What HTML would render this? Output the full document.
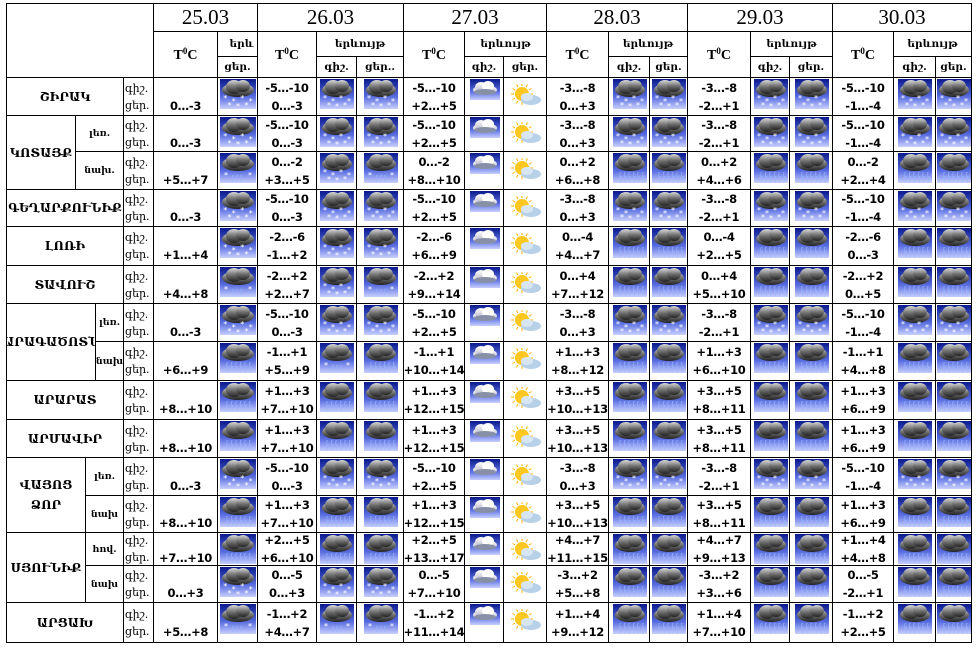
<!DOCTYPE html>
<html><head><meta charset="utf-8">
<style>
body{margin:0;background:#fff;width:979px;height:650px;overflow:hidden;position:relative;font-family:"DejaVu Sans","Liberation Sans",sans-serif;}
.c{position:absolute;box-sizing:border-box;border:1px solid #000;margin:-1px 0 0 -1px;display:flex;align-items:center;justify-content:center;text-align:center;color:#000;overflow:hidden;white-space:nowrap;}
.date{font-family:"Liberation Serif","DejaVu Serif",serif;font-size:21px;}
.hd{font-family:"DejaVu Serif",serif;font-weight:bold;font-size:10.5px;}
.tc{font-family:"Liberation Serif",serif;font-weight:bold;font-size:14px;}
.tc sup{font-size:9px;vertical-align:5px;}
.reg{font-family:"DejaVu Serif",serif;font-weight:bold;font-size:12px;letter-spacing:0;line-height:20px;}
.sub{font-family:"DejaVu Serif",serif;font-weight:bold;font-size:9.5px;}
.lbl{font-family:"DejaVu Serif",serif;font-size:11px;line-height:17px;flex-direction:column;align-items:flex-start;padding-left:1px;}
.t{font-weight:bold;font-size:11.5px;line-height:18px;flex-direction:column;letter-spacing:-0.3px;}
.ic{position:absolute;}
</style></head><body>
<svg width="0" height="0" style="position:absolute">
<defs>
<linearGradient id="bg" x1="0" y1="0" x2="0" y2="1"><stop offset="0" stop-color="#0a1a8c"/><stop offset="0.6" stop-color="#5a6ee0"/><stop offset="1" stop-color="#c8d0ff"/></linearGradient>
<linearGradient id="cl" x1="0" y1="0" x2="0" y2="1"><stop offset="0" stop-color="#d8d8d8"/><stop offset="0.5" stop-color="#707070"/><stop offset="1" stop-color="#222"/></linearGradient>
<linearGradient id="wc" x1="0" y1="0" x2="0" y2="1"><stop offset="0" stop-color="#fff"/><stop offset="1" stop-color="#b8b8c8"/></linearGradient>
</defs></svg>
<div id="root"></div>
<script>
const dates=["25.03","26.03","27.03","28.03","29.03","30.03"];
const regions=[["ՇԻՐԱԿ"],["ԿՈՏԱՅՔ","լեռ.","նախ."],["ԳԵՂԱՐՔՈՒՆԻՔ"],["ԼՈՌԻ"],["ՏԱՎՈՒՇ"],["ԱՐԱԳԱԾՈՏՆ","լեռ.","նախ"],["ԱՐԱՐԱՏ"],["ԱՐՄԱՎԻՐ"],["ՎԱՅՈՑ<br>ՁՈՐ","լեռ.","նախ"],["ՍՅՈՒՆԻՔ","հով.","նախ"],["ԱՐՑԱԽ"]];
const temps=[
["0…-3","-5…-10|0…-3","-5…-10|+2…+5","-3…-8|0…+3","-3…-8|-2…+1","-5…-10|-1…-4"],
["0…-3","-5…-10|0…-3","-5…-10|+2…+5","-3…-8|0…+3","-3…-8|-2…+1","-5…-10|-1…-4"],
["+5…+7","0…-2|+3…+5","0…-2|+8…+10","0…+2|+6…+8","0…+2|+4…+6","0…-2|+2…+4"],
["0…-3","-5…-10|0…-3","-5…-10|+2…+5","-3…-8|0…+3","-3…-8|-2…+1","-5…-10|-1…-4"],
["+1…+4","-2…-6|-1…+2","-2…-6|+6…+9","0…-4|+4…+7","0…-4|+2…+5","-2…-6|0…-3"],
["+4…+8","-2…+2|+2…+7","-2…+2|+9…+14","0…+4|+7…+12","0…+4|+5…+10","-2…+2|0…+5"],
["0…-3","-5…-10|0…-3","-5…-10|+2…+5","-3…-8|0…+3","-3…-8|-2…+1","-5…-10|-1…-4"],
["+6…+9","-1…+1|+5…+9","-1…+1|+10…+14","+1…+3|+8…+12","+1…+3|+6…+10","-1…+1|+4…+8"],
["+8…+10","+1…+3|+7…+10","+1…+3|+12…+15","+3…+5|+10…+13","+3…+5|+8…+11","+1…+3|+6…+9"],
["+8…+10","+1…+3|+7…+10","+1…+3|+12…+15","+3…+5|+10…+13","+3…+5|+8…+11","+1…+3|+6…+9"],
["0…-3","-5…-10|0…-3","-5…-10|+2…+5","-3…-8|0…+3","-3…-8|-2…+1","-5…-10|-1…-4"],
["+8…+10","+1…+3|+7…+10","+1…+3|+12…+15","+3…+5|+10…+13","+3…+5|+8…+11","+1…+3|+6…+9"],
["+7…+10","+2…+5|+6…+10","+2…+5|+13…+17","+4…+7|+11…+15","+4…+7|+9…+13","+1…+4|+4…+8"],
["0…+3","0…-5|0…+3","0…-5|+7…+10","-3…+2|+5…+8","-3…+2|+3…+6","0…-5|-2…+1"],
["+5…+8","-1…+2|+4…+7","-1…+2|+11…+14","+1…+4|+9…+12","+1…+4|+7…+10","-1…+2|+2…+5"]];
const icons=[
"S SS CP SS SS SS","S SS CP SS SS SS","M SM CP RR RR RR","S SS CP SS SS SS","S SS CP RR RR RR",
"M SM CP RR RR RR","S SS CP SS SS SS","R MR CP RR RR RR","R RR CP RR RR RR","R RR CP RR RR RR",
"S SS CP SS SS SS","R RR CP RR RR RR","R RR CP RR RR RR","S SS CP RR RR RR","M MM CP RR RR RR"];
const X=[7,154,218,258,317,357,404,465,504,547,609,650,688,751,790,833,894,936,972];
const Y=[4,32,57,78,116,152,190,227,266,304,342,381,420,458,496,533,566,603,643];
const splitX=[76,76,76,76,76,96,76,76,86,86,76];
const root=document.getElementById('root');
function cell(x1,y1,x2,y2,cls,html,name){const d=document.createElement('div');d.className='c '+cls;d.style.left=x1+'px';d.style.top=y1+'px';d.style.width=(x2-x1+1)+'px';d.style.height=(y2-y1+1)+'px';d.innerHTML=html;


root.appendChild(d);return d;}
function iconSvg(t,w){
 const h=30;let s='';
 if(t==='P'){return `<svg width="34" height="24" viewBox="0 0 34 24"><g stroke="#ffb000" stroke-width="1">${[0,30,60,90,120,150,180,210,240,270,300,330].map(a=>{const r=a*Math.PI/180;return `<line x1="${13+Math.cos(r)*8}" y1="${10+Math.sin(r)*8}" x2="${13+Math.cos(r)*11}" y2="${10+Math.sin(r)*11}"/>`}).join('')}</g><circle cx="13" cy="10" r="7" fill="#ffc820"/><ellipse cx="22" cy="16" rx="10" ry="5" fill="#b8d0e8"/><ellipse cx="18" cy="13" rx="6" ry="4" fill="#d8e6f4"/></svg>`;}
 if(t==='C'){return `<svg width="30" height="21" viewBox="0 0 30 21"><rect width="30" height="21" fill="url(#bg)"/><ellipse cx="15" cy="11" rx="12" ry="5" fill="url(#wc)"/><ellipse cx="11" cy="8" rx="6" ry="5" fill="url(#wc)"/><ellipse cx="18" cy="7" rx="6" ry="5" fill="#fff"/><ellipse cx="15" cy="13" rx="11" ry="3" fill="#8890a8"/></svg>`;}
 s+=`<rect width="${w}" height="${h}" fill="url(#bg)"/>`;
 s+=`<ellipse cx="${w/2}" cy="11" rx="${w/2-2}" ry="7" fill="url(#cl)"/><ellipse cx="${w/2-4}" cy="8" rx="8" ry="7" fill="url(#cl)"/><ellipse cx="${w/2+5}" cy="7" rx="7" ry="6" fill="url(#cl)"/>`;
 if(t==='S'){[[5,20],[13,23],[21,20],[29,23],[9,27],[25,27],[17,28]].forEach(p=>{s+=`<text x="${p[0]*w/34}" y="${p[1]+2}" font-size="8" fill="#fff" text-anchor="middle" font-family="DejaVu Sans">*</text>`;});}
 if(t==='R'){for(let i=0;i<6;i++){s+=`<text x="${6+i*4.5}" y="24" font-size="6" fill="#9ab8ff" font-family="DejaVu Sans">ʃ</text><text x="${7+i*4.5}" y="28" font-size="6" fill="#9ab8ff" font-family="DejaVu Sans">ʃ</text>`;}}
 if(t==='M'){s+=`<text x="6" y="25" font-size="8" fill="#fff" text-anchor="middle">*</text><text x="${w-6}" y="25" font-size="8" fill="#fff" text-anchor="middle">*</text>`;for(let i=0;i<3;i++){s+=`<text x="${12+i*4}" y="27" font-size="6" fill="#9ab8ff">ʃ</text>`;}}
 return `<svg width="${w}" height="${h}" viewBox="0 0 ${w} ${h}">${s}</svg>`;
}
cell(X[0],Y[0],X[1],Y[3],'','', 'corner-cell');
const dayCols=[[1,2,3],[3,4,5,6],[6,7,8,9],[9,10,11,12],[12,13,14,15],[15,16,17,18]];
dates.forEach((d,i)=>{const c=dayCols[i];cell(X[c[0]],Y[0],X[c[c.length-1]],Y[1],'date',d,'date-header');
 cell(X[c[0]],Y[1],X[c[1]],Y[3],'tc','<span>T<sup>0</sup>C</span>','temp-header');
 if(i===0){cell(X[c[1]],Y[1],X[c[2]],Y[2],'hd','<span style="margin-left:8px">երև</span>','phenomenon-header');cell(X[c[1]],Y[2],X[c[2]],Y[3],'hd','ցեր.','day-header');}
 else{cell(X[c[1]],Y[1],X[c[3]],Y[2],'hd','երևույթ','phenomenon-header');cell(X[c[1]],Y[2],X[c[2]],Y[3],'hd','գիշ.','night-header');cell(X[c[2]],Y[2],X[c[3]],Y[3],'hd',i===1?'ցեր..':'ցեր.','day-header');}
});
let r=0,ri=3;
regions.forEach((g,gi)=>{
 const n=g.length>1?2:1;
 const y1=Y[ri],y2=Y[ri+n];
 if(n===1){cell(X[0],y1,124,y2,'reg',g[0],'region-name');}
 else{cell(X[0],y1,splitX[gi],y2,'reg',g[0],'region-name');
   cell(splitX[gi],Y[ri],124,Y[ri+1],'sub',g[1],'subregion-name');
   cell(splitX[gi],Y[ri+1],124,Y[ri+2],'sub',g[2],'subregion-name');}
 for(let k=0;k<n;k++){
  const a=Y[ri+k],b=Y[ri+k+1];
  cell(124,a,X[1],b,'lbl','<span>գիշ.</span><span>ցեր.</span>','night-day-label');
  const tr=temps[r],ic=icons[r].split(' ');
  dayCols.forEach((c,di)=>{
   const parts=tr[di].split('|');
   cell(X[c[0]],a,X[c[1]],b,'t',parts.length>1?`<span>${parts[0]}</span><span>${parts[1]}</span>`:`<span>&nbsp;</span><span>${parts[0]}</span>`,'temperature-cell');
   const codes=ic[di].split('');
   codes.forEach((code,j)=>{
     const col=c[1+j];
     const x1=X[col],x2=X[col+1];
     const ce=cell(x1,a,x2,b,'','','weather-cell');
     ce.style.alignItems='flex-start';
     const w=di===0?36:34;
     const sp=document.createElement('span');sp.className='ic';
     
     
     sp.innerHTML=iconSvg(code,w);
     let top=1;if(code==='P')top=6;
     sp.style.top=top+'px';
     const iw=code==='C'?30:w;
     sp.style.left=Math.max(0,Math.round((x2-x1-iw)/2))+'px';
     ce.appendChild(sp);
   });
  });
  r++;
 }
 ri+=n;
});
</script>
</body></html>
